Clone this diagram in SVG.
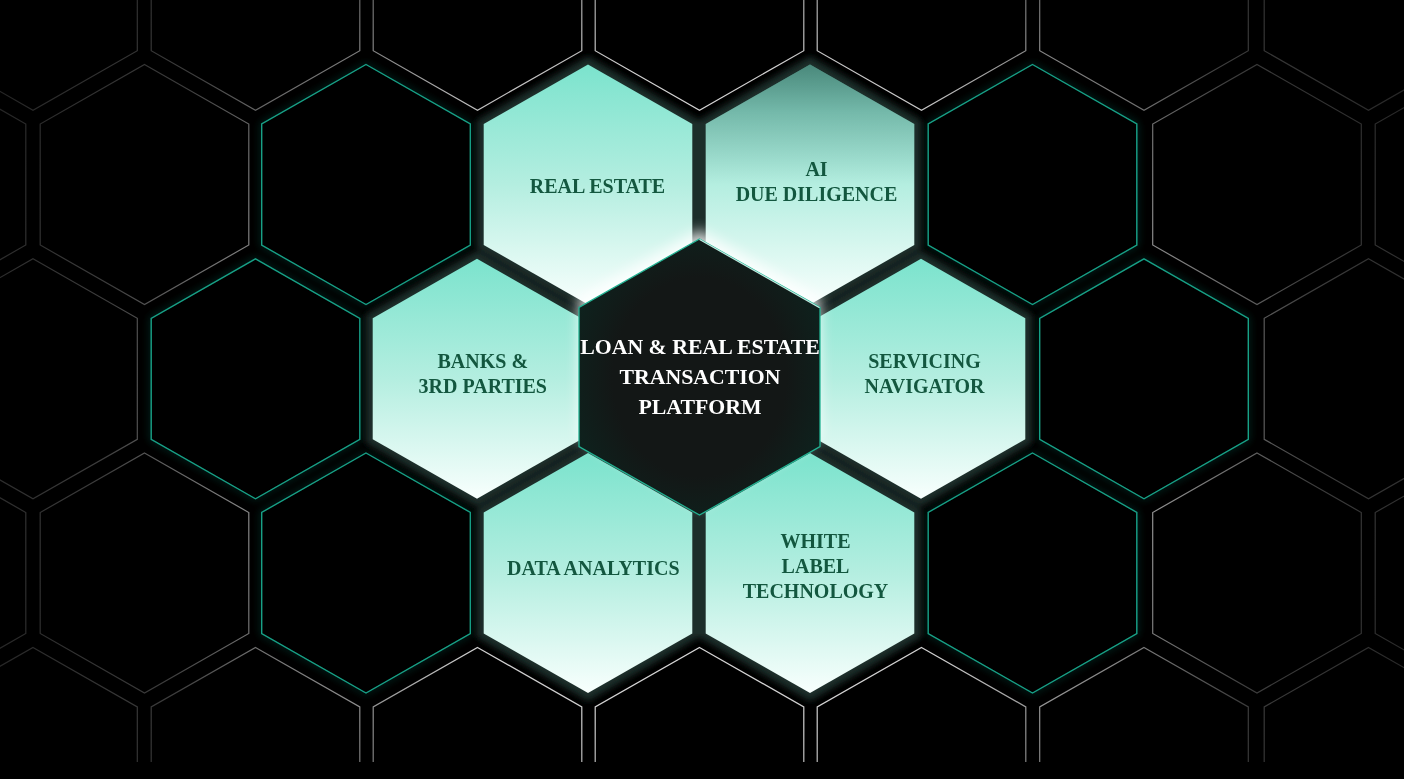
<svg xmlns="http://www.w3.org/2000/svg" xmlns:xlink="http://www.w3.org/1999/xlink" width="1404" height="779" viewBox="0 0 1404 779">
  <defs>
    <style>
      .grid { fill: none; stroke: url(#gridStroke); stroke-width: 1.2; }
      .tealhex { fill: #000; stroke: #17a187; stroke-width: 1.4; }
      .label { font-family: "Liberation Serif", "Times New Roman", serif; font-weight: bold; font-size: 20px; fill: #13573f; text-anchor: middle; }
      .center-label { font-family: "Liberation Serif", "Times New Roman", serif; font-weight: bold; font-size: 21.8px; fill: #ffffff; text-anchor: middle; }
    </style>
    <radialGradient id="gridStroke" gradientUnits="userSpaceOnUse" cx="710" cy="400" r="760">
      <stop offset="0" stop-color="#e6e6e6"/>
      <stop offset="0.45" stop-color="#d0d0d0"/>
      <stop offset="0.62" stop-color="#8a8a8a"/>
      <stop offset="0.8" stop-color="#3e3e3e"/>
      <stop offset="1" stop-color="#262626"/>
    </radialGradient>
    <linearGradient id="lightFill" x1="0" y1="0" x2="0" y2="1">
      <stop offset="0" stop-color="#7be3cd"/>
      <stop offset="0.5" stop-color="#b4eee0"/>
      <stop offset="1" stop-color="#f8fffd"/>
    </linearGradient>
    <linearGradient id="aiShade" x1="0" y1="0" x2="0" y2="1">
      <stop offset="0" stop-color="#000" stop-opacity="0.4"/>
      <stop offset="0.2" stop-color="#000" stop-opacity="0.2"/>
      <stop offset="0.5" stop-color="#000" stop-opacity="0"/>
    </linearGradient>
    <radialGradient id="centerFill" cx="0.5" cy="0.5" r="0.6">
      <stop offset="0.6" stop-color="#131716"/>
      <stop offset="1" stop-color="#0d241f"/>
    </radialGradient>
    <filter id="halo" x="-20%" y="-20%" width="140%" height="140%">
      <feGaussianBlur stdDeviation="3"/>
    </filter>
    <filter id="tealGlow" x="-20%" y="-20%" width="140%" height="140%">
      <feGaussianBlur in="SourceGraphic" stdDeviation="4" result="b"/>
      <feComponentTransfer in="b" result="bf"><feFuncA type="linear" slope="0.45"/></feComponentTransfer>
      <feMerge><feMergeNode in="bf"/><feMergeNode in="SourceGraphic"/></feMerge>
    </filter>
    <filter id="whiteGlow" x="-30%" y="-30%" width="160%" height="160%">
      <feGaussianBlur stdDeviation="7"/>
    </filter>
    <clipPath id="pageClip"><rect x="0" y="0" width="1404" height="762"/></clipPath>
    <path id="hex" d="M0,-120 L104.3,-60.5 L104.3,60.5 L0,120 L-104.3,60.5 L-104.3,-60.5 Z"/>
    <path id="hexBig" d="M0,-128 L111,-64 L111,64 L0,128 L-111,64 L-111,-64 Z"/>
    <path id="hexCenter" d="M0,-138 L120.5,-69.5 L120.5,69.5 L0,138 L-120.5,69.5 L-120.5,-69.5 Z"/>
  </defs>

  <rect x="0" y="0" width="1404" height="779" fill="#000"/>

  <g id="background-grid" clip-path="url(#pageClip)">
    <polygon class="grid" points="33,-129.8 137.3,-70.3 137.3,50.7 33,110.2 -71.3,50.7 -71.3,-70.3"/>
    <polygon class="grid" points="255.5,-129.8 359.8,-70.3 359.8,50.7 255.5,110.2 151.2,50.7 151.2,-70.3"/>
    <polygon class="grid" points="477.5,-129.8 581.8,-70.3 581.8,50.7 477.5,110.2 373.2,50.7 373.2,-70.3"/>
    <polygon class="grid" points="699.5,-129.8 803.8,-70.3 803.8,50.7 699.5,110.2 595.2,50.7 595.2,-70.3"/>
    <polygon class="grid" points="921.5,-129.8 1025.8,-70.3 1025.8,50.7 921.5,110.2 817.2,50.7 817.2,-70.3"/>
    <polygon class="grid" points="1144,-129.8 1248.3,-70.3 1248.3,50.7 1144,110.2 1039.7,50.7 1039.7,-70.3"/>
    <polygon class="grid" points="1368.5,-129.8 1472.8,-70.3 1472.8,50.7 1368.5,110.2 1264.2,50.7 1264.2,-70.3"/>
    <polygon class="grid" points="-78.5,64.5 25.8,124 25.8,245 -78.5,304.5 -182.8,245 -182.8,124"/>
    <polygon class="grid" points="144.5,64.5 248.8,124 248.8,245 144.5,304.5 40.2,245 40.2,124"/>
    <polygon class="grid" points="1257,64.5 1361.3,124 1361.3,245 1257,304.5 1152.7,245 1152.7,124"/>
    <polygon class="grid" points="1479.5,64.5 1583.8,124 1583.8,245 1479.5,304.5 1375.2,245 1375.2,124"/>
    <polygon class="grid" points="33,258.8 137.3,318.3 137.3,439.3 33,498.8 -71.3,439.3 -71.3,318.3"/>
    <polygon class="grid" points="1368.5,258.8 1472.8,318.3 1472.8,439.3 1368.5,498.8 1264.2,439.3 1264.2,318.3"/>
    <polygon class="grid" points="-78.5,453 25.8,512.5 25.8,633.5 -78.5,693 -182.8,633.5 -182.8,512.5"/>
    <polygon class="grid" points="144.5,453 248.8,512.5 248.8,633.5 144.5,693 40.2,633.5 40.2,512.5"/>
    <polygon class="grid" points="1257,453 1361.3,512.5 1361.3,633.5 1257,693 1152.7,633.5 1152.7,512.5"/>
    <polygon class="grid" points="1479.5,453 1583.8,512.5 1583.8,633.5 1479.5,693 1375.2,633.5 1375.2,512.5"/>
    <polygon class="grid" points="33,647.4 137.3,706.9 137.3,827.9 33,887.4 -71.3,827.9 -71.3,706.9"/>
    <polygon class="grid" points="255.5,647.4 359.8,706.9 359.8,827.9 255.5,887.4 151.2,827.9 151.2,706.9"/>
    <polygon class="grid" points="477.5,647.4 581.8,706.9 581.8,827.9 477.5,887.4 373.2,827.9 373.2,706.9"/>
    <polygon class="grid" points="699.5,647.4 803.8,706.9 803.8,827.9 699.5,887.4 595.2,827.9 595.2,706.9"/>
    <polygon class="grid" points="921.5,647.4 1025.8,706.9 1025.8,827.9 921.5,887.4 817.2,827.9 817.2,706.9"/>
    <polygon class="grid" points="1144,647.4 1248.3,706.9 1248.3,827.9 1144,887.4 1039.7,827.9 1039.7,706.9"/>
    <polygon class="grid" points="1368.5,647.4 1472.8,706.9 1472.8,827.9 1368.5,887.4 1264.2,827.9 1264.2,706.9"/>
  </g>

  <g id="teal-ring" filter="url(#tealGlow)">
    <use href="#hex" class="tealhex" transform="translate(366,184.5)"/>
    <use href="#hex" class="tealhex" transform="translate(1032.5,184.5)"/>
    <use href="#hex" class="tealhex" transform="translate(255.5,378.8)"/>
    <use href="#hex" class="tealhex" transform="translate(1144,378.8)"/>
    <use href="#hex" class="tealhex" transform="translate(366,573)"/>
    <use href="#hex" class="tealhex" transform="translate(1032.5,573)"/>
  </g>

  <g id="halos" filter="url(#halo)" fill="#1f2e2b">
    <use href="#hexBig" transform="translate(588,184.5)"/>
    <use href="#hexBig" transform="translate(810,184.5)"/>
    <use href="#hexBig" transform="translate(477,378.8)"/>
    <use href="#hexBig" transform="translate(921,378.8)"/>
    <use href="#hexBig" transform="translate(588,573)"/>
    <use href="#hexBig" transform="translate(810,573)"/>
  </g>

  <g id="node-real-estate">
    <use href="#hex" fill="url(#lightFill)" transform="translate(588,184.5)"/>
    <text class="label" x="597.5" y="192.7">REAL ESTATE</text>
  </g>
  <g id="node-ai-due-diligence">
    <use href="#hex" fill="url(#lightFill)" transform="translate(810,184.5)"/>
    <use href="#hex" fill="url(#aiShade)" transform="translate(810,184.5)"/>
    <text class="label" x="816.5" y="176">AI</text>
    <text class="label" x="816.5" y="200.7">DUE DILIGENCE</text>
  </g>
  <g id="node-banks">
    <use href="#hex" fill="url(#lightFill)" transform="translate(477,378.8)"/>
    <text class="label" x="482.8" y="368.3">BANKS &amp;</text>
    <text class="label" x="482.8" y="392.7">3RD PARTIES</text>
  </g>
  <g id="node-servicing">
    <use href="#hex" fill="url(#lightFill)" transform="translate(921,378.8)"/>
    <text class="label" x="924.5" y="367.7">SERVICING</text>
    <text class="label" x="924.5" y="392.7">NAVIGATOR</text>
  </g>
  <g id="node-data-analytics">
    <use href="#hex" fill="url(#lightFill)" transform="translate(588,573)"/>
    <text class="label" x="593.3" y="575">DATA ANALYTICS</text>
  </g>
  <g id="node-white-label">
    <use href="#hex" fill="url(#lightFill)" transform="translate(810,573)"/>
    <text class="label" x="815.5" y="547.7">WHITE</text>
    <text class="label" x="815.5" y="572.7">LABEL</text>
    <text class="label" x="815.5" y="597.7">TECHNOLOGY</text>
  </g>

  <g id="node-center">
    <use href="#hexCenter" fill="#ffffff" opacity="0.85" filter="url(#whiteGlow)" transform="translate(699.5,368)"/>
    <use href="#hexCenter" fill="url(#centerFill)" stroke="#22b393" stroke-width="1.3" transform="translate(699.5,377)"/>
    <line x1="699.5" y1="239.5" x2="819.5" y2="307.8" stroke="#e8fffa" stroke-width="1.2" opacity="0.8"/>
    <text class="center-label" x="700" y="354.3">LOAN &amp; REAL ESTATE</text>
    <text class="center-label" x="700" y="384.3">TRANSACTION</text>
    <text class="center-label" x="700" y="414.3">PLATFORM</text>
  </g>

  <g id="connectors"/>
</svg>
